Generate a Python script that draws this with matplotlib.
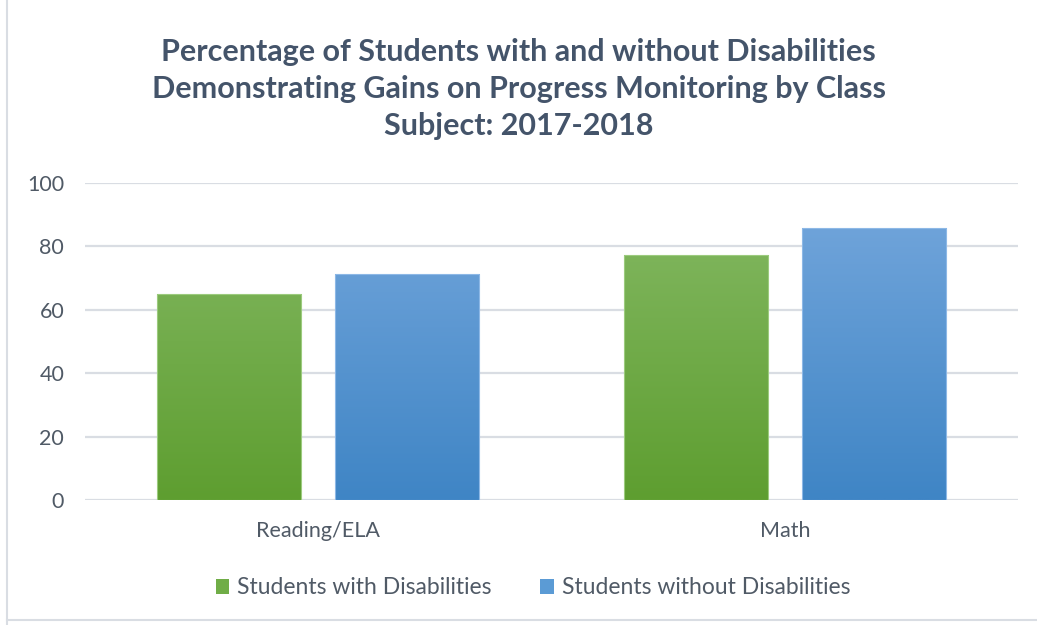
import numpy as np
import matplotlib
matplotlib.use("Agg")
import matplotlib.pyplot as plt
from matplotlib.colors import LinearSegmentedColormap

categories = ["Reading/ELA", "Math"]
series_names = ["Students with Disabilities", "Students without Disabilities"]
with_dis = [65.0, 77.2]
without_dis = [71.3, 85.6]
yticks = [0, 20, 40, 60, 80, 100]

title = ("Percentage of Students with and without Disabilities\n"
         "Demonstrating Gains on Progress Monitoring by Class\n"
         "Subject: 2017-2018")

plt.rcParams['font.family'] = ['Lato', 'DejaVu Sans']

fig = plt.figure(figsize=(10.37, 6.25), dpi=100)
ax = fig.add_axes([85/1037, 1-500.3/625, (1018-85)/1037, (500.3-182.7)/625])

grad = {
    0: ("#86BA66", "#5E9E30"),
    1: ("#76A8DD", "#3F85C5"),
}
edge = {0: "#9CCB7E", 1: "#8DB8E6"}
solid = {0: "#70AD47", 1: "#5B9BD5"}

x = np.arange(len(categories))
w = 0.309
off = 0.191
for si, vals in enumerate([with_dis, without_dis]):
    pos = x + (off if si else -off)
    bars = ax.bar(pos, vals, width=w, color='none', edgecolor=edge[si],
                  linewidth=0.8, zorder=3)
    cmap = LinearSegmentedColormap.from_list("g%d" % si, [grad[si][1], grad[si][0]])
    for b in bars:
        bx = b.get_x()
        bw, bh = b.get_width(), b.get_height()
        g = np.linspace(0, 1, 256).reshape(-1, 1) * (bh / 100.0)
        im = ax.imshow(g, cmap=cmap, vmin=0, vmax=1, origin='lower',
                       extent=[bx, bx + bw, 0, bh], aspect='auto', zorder=2,
                       interpolation='bilinear')
        im.set_clip_path(b)
    ax.bar([0], [0], color=solid[si], label=series_names[si])

ax.set_xlim(-0.5, 1.5)
ax.set_ylim(0, 100)
ax.set_yticks(yticks)
ax.set_xticks(x)
ax.set_xticklabels(categories)
ax.yaxis.grid(True, color="#D9DDE3", linewidth=1.6)
ax.set_axisbelow(True)
for s in ax.spines.values():
    s.set_visible(False)
ax.tick_params(axis='both', length=0, labelsize=15.5, colors="#595959")
ax.tick_params(axis='y', pad=15)
ax.tick_params(axis='x', pad=15)
for lbl in ax.get_yticklabels() + ax.get_xticklabels():
    lbl.set_color("#505A66")

fig.text(0.5, 1 - 89/625, title, ha='center', va='center', fontsize=22,
         fontweight='bold', color="#44546A", linespacing=1.38)

leg = fig.legend(loc='center', bbox_to_anchor=(0.514, 1 - 588/625), ncol=2,
                 frameon=False, fontsize=16.5, handlelength=0.6, handleheight=0.6,
                 handletextpad=0.35, columnspacing=2.1)
for t in leg.get_texts():
    t.set_color("#505A66")

# chart border (light)
fig.add_artist(plt.Line2D([7/1037, 7/1037], [0, 1], color="#D9DDE3", lw=1.5))
fig.add_artist(plt.Line2D([7/1037, 1], [1 - 620/625, 1 - 620/625], color="#D9DDE3", lw=1.5))

fig.savefig("out.png", dpi=100)
